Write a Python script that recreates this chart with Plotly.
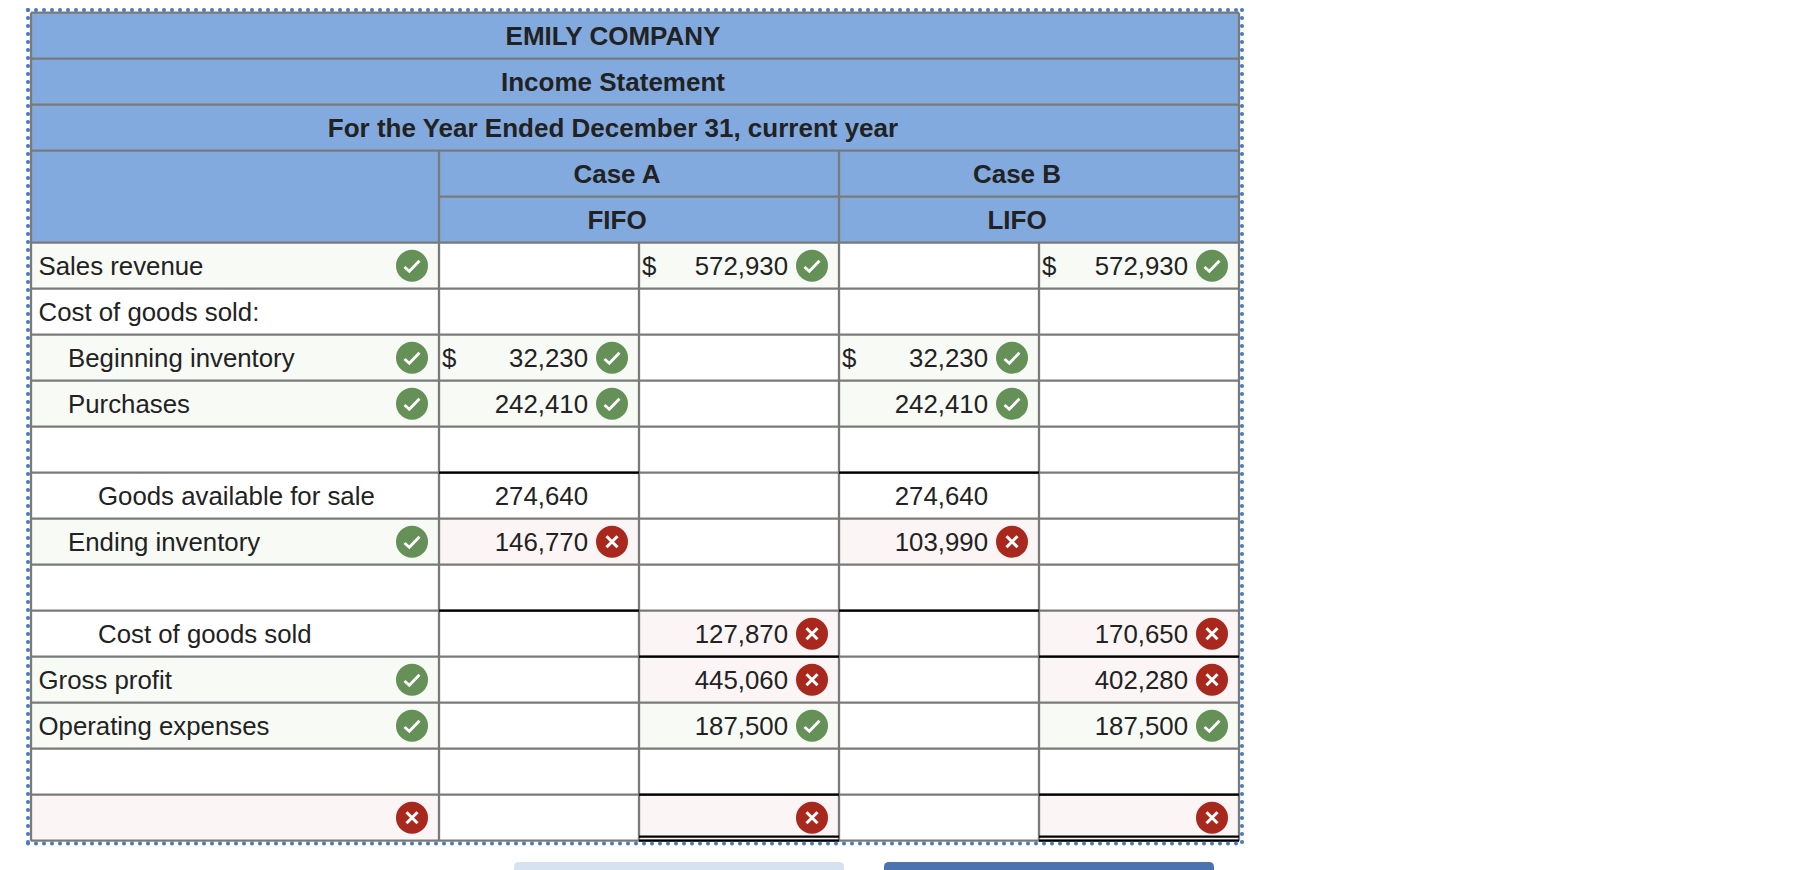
import plotly.graph_objects as go

# ---------- data ----------
title_lines = ["EMILY COMPANY", "Income Statement", "For the Year Ended December 31, current year"]
case_names = ["Case A", "Case B"]
method_names = ["FIFO", "LIFO"]
row_labels = ["Sales revenue", "Cost of goods sold:", "Beginning inventory", "Purchases", "",
              "Goods available for sale", "Ending inventory", "", "Cost of goods sold",
              "Gross profit", "Operating expenses", "", ""]
row_indent = [0, 0, 1, 1, 0, 2, 1, 0, 2, 0, 0, 0, 0]
# status: "ok", "bad" or "" for no mark
label_status = ["ok", "", "ok", "ok", "", "", "ok", "", "", "ok", "ok", "", "bad"]
inner_col_a = ["", "", "32,230", "242,410", "", "274,640", "146,770", "", "", "", "", "", ""]
inner_col_b = ["", "", "32,230", "242,410", "", "274,640", "103,990", "", "", "", "", "", ""]
inner_status = ["", "", "ok", "ok", "", "", "bad", "", "", "", "", "", ""]
outer_col_a = ["572,930", "", "", "", "", "", "", "", "127,870", "445,060", "187,500", "", ""]
outer_col_b = ["572,930", "", "", "", "", "", "", "", "170,650", "402,280", "187,500", "", ""]
outer_status = ["ok", "", "", "", "", "", "", "", "bad", "bad", "ok", "", "bad"]
dollar_inner = [2]
dollar_outer = [0]
black_top_inner = [5, 8]
black_top_outer = [9, 12]

# ---------- geometry / style ----------
W, H = 1808, 870
COLS = [31, 439, 639, 839, 1039, 1239]
Y0, RH = 12.7, 46.0
HEAD = 5
FONT = "Liberation Sans"
FS_TEXT = 25.8
FS_BOLD = 26.0
TEXT_DY = 2.5
INK = "#222222"
GRID = "#7a7a7a"
BLUE = "#82aadf"
GREEN_BG, PINK_BG = "#f7faf5", "#fbf5f5"
ICON = {"ok": "#659058", "bad": "#a8281e"}

def yl(k):
    return Y0 + RH * k

def yc(k):
    return yl(k) + RH / 2

def yt(k):
    return yc(k) + TEXT_DY

fig = go.Figure()
shapes = []

def rect(x0, y0, x1, y1, fill):
    shapes.append(dict(type="rect", x0=x0, x1=x1, y0=y0, y1=y1, fillcolor=fill,
                       line=dict(width=0), layer="below"))

def seg(x0, y0, x1, y1, color=GRID, width=2.3):
    shapes.append(dict(type="line", x0=x0, x1=x1, y0=y0, y1=y1,
                       line=dict(color=color, width=width), layer="below"))

# header fill
rect(COLS[0], yl(0), COLS[-1], yl(HEAD), BLUE)

# status tints
for r in range(len(row_labels)):
    k = HEAD + r
    tint = {"ok": GREEN_BG, "bad": PINK_BG}
    if label_status[r]:
        rect(COLS[0], yl(k), COLS[1], yl(k + 1), tint[label_status[r]])
    if inner_status[r]:
        rect(COLS[1], yl(k), COLS[2], yl(k + 1), tint[inner_status[r]])
        rect(COLS[3], yl(k), COLS[4], yl(k + 1), tint[inner_status[r]])
    if outer_status[r]:
        rect(COLS[2], yl(k), COLS[3], yl(k + 1), tint[outer_status[r]])
        rect(COLS[4], yl(k), COLS[5], yl(k + 1), tint[outer_status[r]])

# grid lines
total = HEAD + len(row_labels)
for k in range(total + 1):
    if k == 4:
        seg(COLS[1], yl(k), COLS[5], yl(k))
    else:
        seg(COLS[0], yl(k), COLS[5], yl(k))
seg(COLS[0], yl(0), COLS[0], yl(total))
seg(COLS[5], yl(0), COLS[5], yl(total))
seg(COLS[1], yl(3), COLS[1], yl(total))
seg(COLS[3], yl(3), COLS[3], yl(total))
seg(COLS[2], yl(HEAD), COLS[2], yl(total))
seg(COLS[4], yl(HEAD), COLS[4], yl(total))

# black rules
for r in black_top_inner:
    for c in (1, 3):
        seg(COLS[c], yl(HEAD + r), COLS[c + 1], yl(HEAD + r), "#000000", 2.2)
for r in black_top_outer:
    for c in (2, 4):
        seg(COLS[c], yl(HEAD + r), COLS[c + 1], yl(HEAD + r), "#000000", 2.2)
for c in (2, 4):
    seg(COLS[c], yl(total) - 4, COLS[c + 1], yl(total) - 4, "#000000", 2.2)
    seg(COLS[c], yl(total), COLS[c + 1], yl(total), "#000000", 2.2)

# dotted frame
FX0, FY0, FX1, FY1 = 28, 10, 1242, 843.5
DOT = 8
dx, dy = [], []
for x in range(FX0, FX1 + 1, DOT):
    dx += [x, x]
    dy += [FY0, FY1]
for y in range(FY0, int(FY1) + 1, DOT):
    dx += [FX0, FX1]
    dy += [y, y]

# buttons cut by page bottom
def button(x0, x1, fill):
    top, r, bot = 862, 5, 880
    path = (f"M {x0} {bot} L {x0} {top + r} Q {x0} {top} {x0 + r} {top} "
            f"L {x1 - r} {top} Q {x1} {top} {x1} {top + r} L {x1} {bot} Z")
    shapes.append(dict(type="path", path=path, fillcolor=fill, line=dict(width=0)))

button(514, 844, "#d6e2f0")
button(884, 1214, "#4a73b0")

# texts
def text_trace(xs, ys, texts, pos, bold=False, size=FS_TEXT):
    fig.add_trace(go.Scatter(
        x=xs, y=ys, text=texts, mode="text", textposition=pos, hoverinfo="skip", showlegend=False,
        cliponaxis=False,
        textfont=dict(family=FONT, size=size, color=INK, weight=700 if bold else 400)))

text_trace([(COLS[0] + COLS[5]) / 2 - 22] * 3, [yt(i) for i in range(3)], title_lines, "middle center", True, FS_BOLD)
case_x = [(COLS[1] + COLS[3]) / 2 - 22, (COLS[3] + COLS[5]) / 2 - 22]
text_trace(case_x, [yt(3)] * 2, case_names, "middle center", True, FS_BOLD)
text_trace(case_x, [yt(4)] * 2, method_names, "middle center", True, FS_BOLD)

indent_px = [7.5, 37, 67]
text_trace([COLS[0] + indent_px[i] for i in row_indent], [yt(HEAD + r) for r in range(len(row_labels))],
           row_labels, "middle right", False)

for vals, c_idx in ((inner_col_a, 2), (inner_col_b, 4), (outer_col_a, 3), (outer_col_b, 5)):
    text_trace([COLS[c_idx] - 51] * len(vals), [yt(HEAD + r) for r in range(len(vals))], vals, "middle left")

for r in dollar_inner:
    text_trace([COLS[1] + 3, COLS[3] + 3], [yt(HEAD + r)] * 2, ["$", "$"], "middle right")
for r in dollar_outer:
    text_trace([COLS[2] + 3, COLS[4] + 3], [yt(HEAD + r)] * 2, ["$", "$"], "middle right")

# frame dots
fig.add_trace(go.Scatter(x=dx, y=dy, mode="markers", hoverinfo="skip", showlegend=False, cliponaxis=False,
                         marker=dict(size=4, color="#4a78c0", line=dict(width=0))))

# icons
icons = []
for r in range(len(row_labels)):
    if label_status[r]:
        icons.append((COLS[1] - 27, yc(HEAD + r), label_status[r]))
    if inner_status[r]:
        icons.append((COLS[2] - 27, yc(HEAD + r), inner_status[r]))
        icons.append((COLS[4] - 27, yc(HEAD + r), inner_status[r]))
    if outer_status[r]:
        icons.append((COLS[3] - 27, yc(HEAD + r), outer_status[r]))
        icons.append((COLS[5] - 27, yc(HEAD + r), outer_status[r]))

for kind in ("ok", "bad"):
    sel = [i for i in icons if i[2] == kind]
    fig.add_trace(go.Scatter(x=[i[0] for i in sel], y=[i[1] for i in sel], mode="markers",
                             hoverinfo="skip", showlegend=False, cliponaxis=False,
                             marker=dict(size=32, color=ICON[kind], line=dict(width=0))))

lx, ly = [], []
for x, y, kind in icons:
    if kind == "ok":
        lx += [x - 7.5, x - 2.7, x + 7.5, None]
        ly += [y + 1.3, y + 5.5, y - 5, None]
fig.add_trace(go.Scatter(x=lx, y=ly, mode="lines", hoverinfo="skip", showlegend=False,
                         line=dict(color="#ffffff", width=2.8)))
lx, ly = [], []
for x, y, kind in icons:
    if kind == "bad":
        lx += [x - 5.5, x + 5.5, None, x - 5.5, x + 5.5, None]
        ly += [y - 5.5, y + 5.5, None, y + 5.5, y - 5.5, None]
fig.add_trace(go.Scatter(x=lx, y=ly, mode="lines", hoverinfo="skip", showlegend=False,
                         line=dict(color="#ffffff", width=3)))

fig.update_layout(
    width=W, height=H, margin=dict(l=0, r=0, t=0, b=0), autosize=False,
    paper_bgcolor="#ffffff", plot_bgcolor="#ffffff", shapes=shapes, showlegend=False,
    xaxis=dict(range=[0, W], visible=False, fixedrange=True),
    yaxis=dict(range=[H, 0], visible=False, fixedrange=True),
)
fig.write_html("out.html", config={"displayModeBar": False},
               post_script="document.body.style.margin='0';document.documentElement.style.overflow='hidden';")
